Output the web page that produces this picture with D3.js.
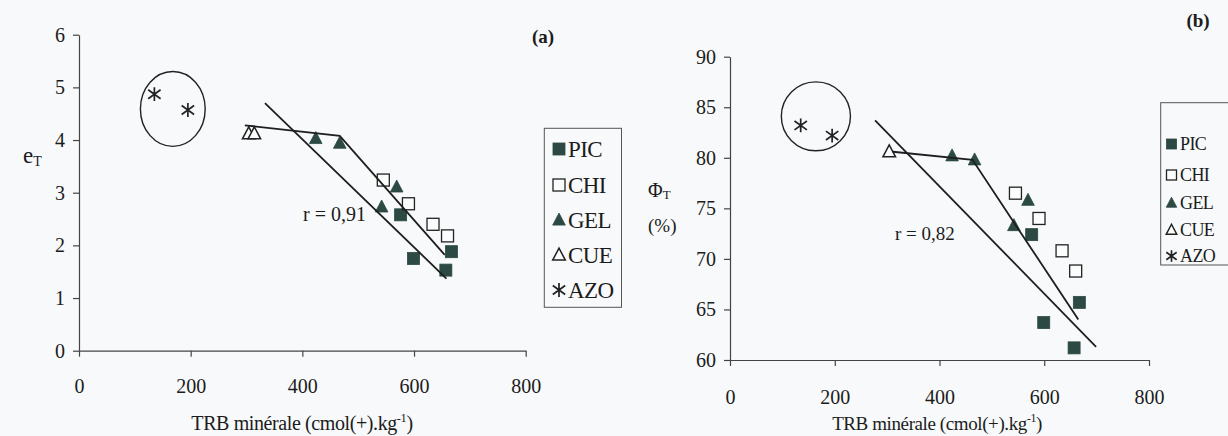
<!DOCTYPE html>
<html><head><meta charset="utf-8">
<script src="https://cdn.jsdelivr.net/npm/d3@7"></script>
<style>
body{margin:0;background:#f7f9fa}
svg{display:block}
svg text{font-family:"Liberation Serif","Times New Roman","DejaVu Serif",serif !important;fill:#1c1c1c}
</style>
</head><body>
<svg id="c" width="1228" height="436"></svg>
<script>
// ---- data ----
const seriesNames = ["PIC","CHI","GEL","CUE","AZO"];
// TRB minérale (cmol(+).kg-1) per sample, by series
const picTRB = [576, 599, 667, 657];
const chiTRB = [545, 590, 634, 660];
const gelTRB = [424, 467, 569, 542];
const cueTRB = [304, 314];
const azoTRB = [135, 195];
// eT values (chart a)
const picE = [2.58, 1.75, 1.88, 1.53];
const chiE = [3.24, 2.79, 2.40, 2.18];
const gelE = [4.03, 3.94, 3.11, 2.73];
const cueE = [4.12, 4.12];
const azoE = [4.87, 4.57];
// PhiT values % (chart b)
const picPhi = [72.4, 63.7, 65.7, 61.2];
const chiPhi = [76.5, 74.0, 70.8, 68.8];
const gelPhi = [80.2, 79.8, 75.8, 73.3];
const cuePhi = [80.6, 80.6];
const azoPhi = [83.2, 82.2];
// fitted lines [TRB, value]
const regA = [[333, 4.70], [658, 1.37]];
const segA = [[297, 4.28], [467, 4.08], [655, 1.82]];
const regB = [[277, 83.7], [699, 61.3]];
const segB = [[311, 80.6], [463, 79.8], [665, 64.0]];
// AZO group ellipse: [cx, cy, rx, ry] in data units
const ellA = [168, 4.59, 58, 0.71];
const ellB = [164, 84.1, 66, 3.41];
// ticks and labels
const xTicks = [0, 200, 400, 600, 800];
const eTicks = [0, 1, 2, 3, 4, 5, 6];
const phiTicks = [60, 65, 70, 75, 80, 85, 90];
const rA = "r = 0,91";
const rB = "r = 0,82";

// ---- drawing ----
const FONT = '"Liberation Serif","Times New Roman","DejaVu Serif",serif';
const svg = d3.select("#c");
svg.append("rect").attr("width",1228).attr("height",436).attr("fill","#f7f9fa");
const DARK = "#2c4944";
const INK = "#222";

function marker(g, type, x, y, s) {
  const h = s/2;
  if (type === "PIC") {
    g.append("rect").attr("x",x-h).attr("y",y-h).attr("width",s).attr("height",s)
      .attr("fill",DARK).attr("stroke",DARK).attr("stroke-width",0.8);
  } else if (type === "CHI") {
    g.append("rect").attr("x",x-h).attr("y",y-h).attr("width",s).attr("height",s)
      .attr("fill","#fbfcfc").attr("stroke",INK).attr("stroke-width",1.3);
  } else if (type === "GEL" || type === "CUE") {
    const p = `M${x},${y-h*1.15}L${x+h*1.05},${y+h*0.85}L${x-h*1.05},${y+h*0.85}Z`;
    g.append("path").attr("d",p)
      .attr("fill", type === "GEL" ? DARK : "#fbfcfc")
      .attr("stroke", type === "GEL" ? DARK : INK)
      .attr("stroke-width", type === "GEL" ? 0.8 : 1.5).attr("stroke-linejoin","miter");
  } else if (type === "AZO") {
    const a = h*1.15;
    const path = `M${x},${y-a}L${x},${y+a}M${x-a*0.9},${y-a*0.65}L${x+a*0.9},${y+a*0.65}M${x-a*0.9},${y+a*0.65}L${x+a*0.9},${y-a*0.65}`;
    g.append("path").attr("d",path).attr("stroke",INK).attr("stroke-width",1.7).attr("fill","none");
  }
}

function chart(cfg) {
  const g = svg.append("g");
  const x = d3.scaleLinear().domain([0,800]).range(cfg.xr);
  const y = d3.scaleLinear().domain(cfg.yd).range(cfg.yr);

  const xa = g.append("g").attr("transform",`translate(0,${cfg.yr[0]})`)
    .call(d3.axisBottom(x).tickValues(xTicks).tickFormat(d3.format("d")).tickSize(6).tickSizeOuter(0).tickPadding(cfg.xpad));
  const ya = g.append("g").attr("transform",`translate(${cfg.xr[0]},0)`)
    .call(d3.axisLeft(y).tickValues(cfg.yTicks).tickFormat(d3.format("d")).tickSize(6).tickSizeOuter(0).tickPadding(cfg.ypad));
  [xa, ya].forEach(a => {
    a.attr("font-family", FONT);
    a.selectAll("path,line").attr("stroke","#444").attr("stroke-width",1.2);
    a.selectAll("text").attr("font-family",FONT).attr("font-size",cfg.tickFs).attr("fill","#1c1c1c");
  });

  // ellipse around AZO
  const e = cfg.ell;
  g.append("ellipse").attr("cx",x(e[0])).attr("cy",y(e[1]))
    .attr("rx",x(e[0]+e[2])-x(e[0])).attr("ry",y(e[1]-e[3])-y(e[1]))
    .attr("fill","none").attr("stroke",INK).attr("stroke-width",1.4);

  // markers
  const ms = g.append("g");
  cfg.series.forEach(s => {
    s.xs.forEach((v,i) => marker(ms, s.name, x(v), y(s.ys[i]), cfg.ms));
  });

  // lines
  const line = d3.line().x(d => x(d[0])).y(d => y(d[1]));
  g.append("path").attr("d",line(cfg.reg)).attr("fill","none").attr("stroke","#1e1e1e").attr("stroke-width",1.8);
  g.append("path").attr("d",line(cfg.seg)).attr("fill","none").attr("stroke","#1e1e1e").attr("stroke-width",1.8);

  // r label
  g.append("text").attr("x",cfg.rPos[0]).attr("y",cfg.rPos[1]).attr("font-family",FONT).attr("font-size",cfg.rFs).text(cfg.rText);

  // panel label
  g.append("text").attr("x",cfg.pPos[0]).attr("y",cfg.pPos[1]).attr("font-size",19).attr("font-family",FONT)
    .attr("font-weight","bold").attr("text-anchor","middle").text(cfg.panel);

  // x label
  const xl = g.append("text").attr("x",cfg.xlPos[0]).attr("y",cfg.xlPos[1]).attr("font-size",cfg.xlFs)
    .attr("font-family",FONT).attr("text-anchor","middle").attr("letter-spacing",-0.4);
  xl.append("tspan").text("TRB minérale (cmol(+).kg");
  xl.append("tspan").attr("font-size",cfg.xlFs*0.62).attr("dy",-8).text("-1");
  xl.append("tspan").attr("dy",8).text(")");

  // legend
  const L = cfg.leg;
  g.append("rect").attr("x",L.x).attr("y",L.y).attr("width",L.w).attr("height",L.h)
    .attr("fill","none").attr("stroke","#555").attr("stroke-width",1);
  seriesNames.forEach((n,i) => {
    const cy = L.rows[i];
    marker(g, n, L.mx, cy, L.ms);
    g.append("text").attr("x",L.tx).attr("y",cy).attr("dy","0.35em").attr("font-size",L.fs)
      .attr("font-family",FONT).attr("letter-spacing",-0.6).text(n);
  });
  return {g,x,y};
}

const A = chart({
  xr:[79,525.7], yd:[0,6], yr:[350.7,34.7], yTicks:eTicks, xpad:22, ypad:8, tickFs:20,
  series:[
    {name:"PIC", xs:picTRB, ys:picE},
    {name:"CHI", xs:chiTRB, ys:chiE},
    {name:"GEL", xs:gelTRB, ys:gelE},
    {name:"CUE", xs:cueTRB, ys:cueE},
    {name:"AZO", xs:azoTRB, ys:azoE}
  ],
  ms:12, reg:regA, seg:segA, ell:ellA,
  rText:rA, rPos:[303,221], rFs:20,
  panel:"(a)", pPos:[543,43],
  xlPos:[302,430], xlFs:20,
  leg:{x:544.3,y:128.3,w:77.2,h:179,mx:559,tx:568,ms:12,fs:23,rows:[149,185,220,255,290]}
});
// y label (a)
const ylA = svg.append("text").attr("x",23).attr("y",163).attr("font-size",23).attr("font-family",FONT);
ylA.append("tspan").text("e");
ylA.append("tspan").attr("font-size",14).attr("dy",3).text("T");

const B = chart({
  xr:[730,1149], yd:[60,90], yr:[360,56.7], yTicks:phiTicks, xpad:24, ypad:8, tickFs:20,
  series:[
    {name:"PIC", xs:picTRB, ys:picPhi},
    {name:"CHI", xs:chiTRB, ys:chiPhi},
    {name:"GEL", xs:gelTRB, ys:gelPhi},
    {name:"CUE", xs:cueTRB.slice(0,1), ys:cuePhi.slice(0,1)},
    {name:"AZO", xs:azoTRB, ys:azoPhi}
  ],
  ms:12, reg:regB, seg:segB, ell:ellB,
  rText:rB, rPos:[895,240], rFs:19,
  panel:"(b)", pPos:[1198,27],
  xlPos:[937,430], xlFs:19,
  leg:{x:1160.7,y:102.7,w:80,h:162.3,mx:1171.5,tx:1180,ms:10,fs:18,rows:[144,175,203,230,256]}
});
const ylB = svg.append("text").attr("x",648).attr("y",197).attr("font-size",20).attr("font-family",FONT);
ylB.append("tspan").text("Φ");
ylB.append("tspan").attr("font-size",13).attr("dy",2).text("T");
svg.append("text").attr("x",648).attr("y",232).attr("font-size",19).attr("font-family",FONT).text("(%)");
</script>
</body></html>
